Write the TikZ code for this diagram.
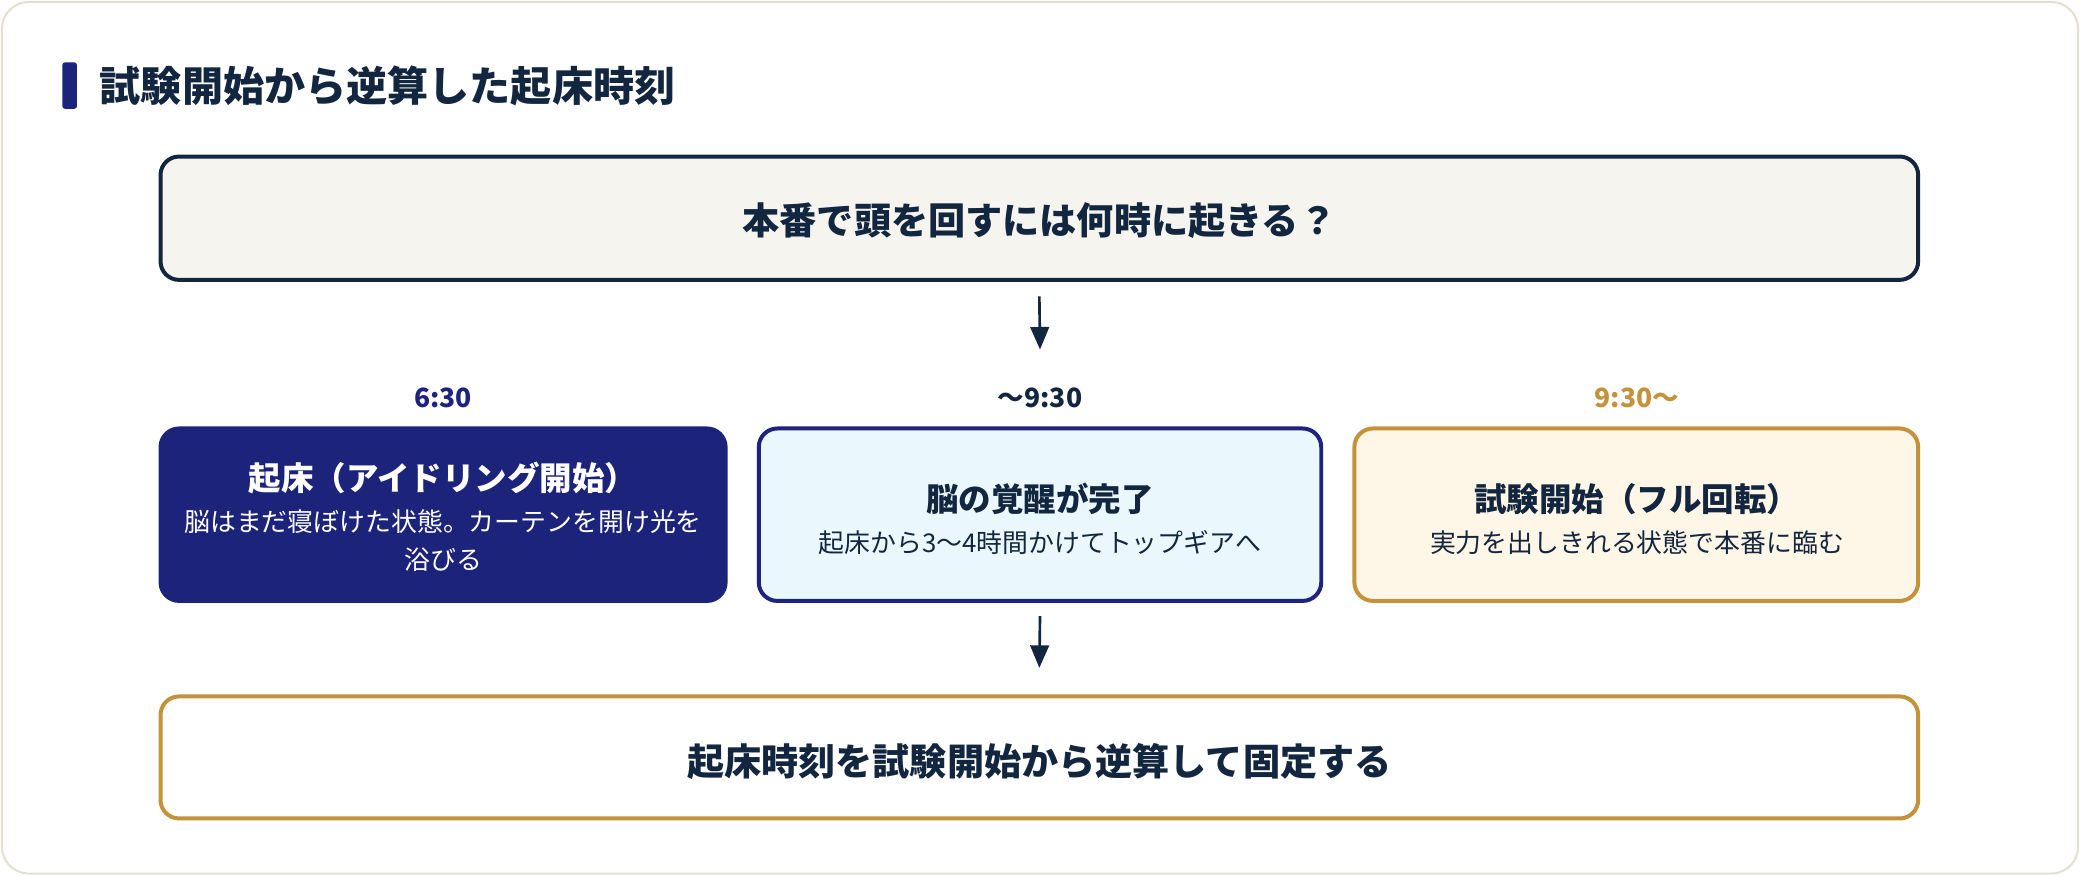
\documentclass[tikz,border=0pt]{standalone}
\usepackage{fontspec}
\setmainfont{Noto Sans CJK JP}
\usetikzlibrary{arrows.meta,calc}
\definecolor{ink}{HTML}{13263F}
\definecolor{navy}{HTML}{1C237B}
\definecolor{navyline}{HTML}{1E2380}
\definecolor{gold}{HTML}{C4923A}
\definecolor{cardline}{HTML}{E3E0D3}
\definecolor{topfill}{HTML}{F5F4EF}
\definecolor{cyanfill}{HTML}{EAF8FD}
\definecolor{creamfill}{HTML}{FEF6E6}
\tikzset{
  box/.style={rectangle, rounded corners=14pt, line width=3pt, inner sep=0pt},
  bigtxt/.style={font=\bfseries\fontsize{28}{34}\selectfont, text=ink, inner sep=0pt},
  headtxt/.style={font=\bfseries\fontsize{24.5}{30}\selectfont, inner sep=0pt},
  subtxt/.style={font=\fontsize{19.5}{29}\selectfont, inner sep=0pt},
  timetxt/.style={font=\bfseries\fontsize{20}{24}\selectfont, inner sep=0pt},
  arr/.style={line width=2pt, draw=ink, -{Triangle[length=17pt,width=14pt]}, shorten >=0pt}
}
\begin{document}
\begin{tikzpicture}[x=1pt,y=-1pt]
\useasboundingbox (0,0) rectangle (1568,660);
\draw[cardline, line width=1.5pt, fill=white, rounded corners=20pt] (1.5,1.5) rectangle (1566.5,658.5);
% title
\fill[navy, rounded corners=2pt] (47,47) rectangle (58,82);
\node[anchor=west, font=\bfseries\fontsize{31}{36}\selectfont, text=ink, inner sep=0pt] (title) at (75,65) {試験開始から逆算した起床時刻};
% top question
\node[box, draw=ink, fill=topfill, minimum width=1325pt, minimum height=93pt] (top) at (783.5,164.5) {};
\node[bigtxt] (toptxt) at (783.5,166) {本番で頭を回すには何時に起きる？};
% three stage boxes
\node[box, draw=navy, fill=navy, minimum width=426pt, minimum height=130pt] (wake) at (334,388) {};
\node[box, draw=navyline, fill=cyanfill, minimum width=424pt, minimum height=130pt] (mid) at (784,388) {};
\node[box, draw=gold, fill=creamfill, minimum width=425pt, minimum height=130pt] (exam) at (1233.5,388) {};
% time labels
\node[timetxt, text=navyline] (t1) at (334,300) {6:30};
\node[timetxt, text=ink] (t2) at (784,300) {〜9:30};
\node[timetxt, text=gold] (t3) at (1234,300) {9:30〜};
% box texts
\node[headtxt, text=white] (wakeh) at (334,360) {起床（アイドリング開始）};
\node[subtxt, text=white] (wakes1) at (334,393) {脳はまだ寝ぼけた状態。カーテンを開け光を};
\node[subtxt, text=white] (wakes2) at (334,422) {浴びる};
\node[headtxt, text=ink] (midh) at (784,376) {脳の覚醒が完了};
\node[subtxt, text=ink] (mids) at (784,409) {起床から3〜4時間かけてトップギアへ};
\node[headtxt, text=ink] (examh) at (1234,376) {試験開始（フル回転）};
\node[subtxt, text=ink] (exams) at (1234,409) {実力を出しきれる状態で本番に臨む};
% bottom conclusion
\node[box, draw=gold, fill=white, minimum width=1325pt, minimum height=92pt] (bot) at (783.5,571) {};
\node[bigtxt] (bottxt) at (783.5,574) {起床時刻を試験開始から逆算して固定する};
% arrows
\draw[arr] ($(top.south)+(0,11)$) -- ($(mid.north)+(0,-58)$);
\draw[arr] ($(mid.south)+(0,10)$) -- ($(bot.north)+(0,-20)$);
\end{tikzpicture}
\end{document}
